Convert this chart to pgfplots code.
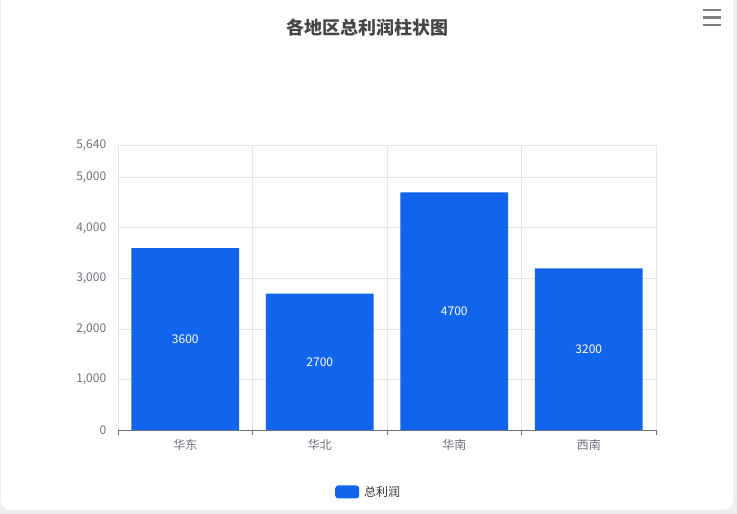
\documentclass[border=0pt]{standalone}
\usepackage{pgfplots}
\pgfplotsset{compat=1.18}
\usepackage{fontspec}
\setmainfont{Noto Sans CJK SC}
\definecolor{barblue}{RGB}{17,101,236}
\definecolor{gridc}{RGB}{224,230,241}
\definecolor{axisc}{RGB}{110,112,121}
\definecolor{titlec}{RGB}{70,70,70}
\definecolor{legc}{RGB}{51,51,51}
\definecolor{bgc}{RGB}{238,238,238}
\definecolor{iconc}{RGB}{128,128,128}
\begin{document}
\begin{tikzpicture}
\useasboundingbox (0,0) rectangle (737bp,514bp);
\fill[bgc] (0,0) rectangle (737bp,514bp);
\fill[white, rounded corners=10bp] (1bp,4bp) rectangle (733bp,530bp);
\node[font=\fontsize{18bp}{21bp}\selectfont\bfseries, text=titlec] at (367bp,486bp) {各地区总利润柱状图};
\foreach \yy in {489,496.5,504}{\draw[line width=2.4bp, color=iconc] (703bp,\yy bp) -- (721bp,\yy bp);}
\begin{axis}[
  at={(118bp,84bp)}, anchor=south west,
  scale only axis, width=538bp, height=285bp,
  xmin=-0.5, xmax=3.5, ymin=0, ymax=5640,
  axis x line*=bottom, axis y line*=left,
  x axis line style={color=axisc, line width=0.8bp, -},
  y axis line style={draw=none},
  xtick={0,1,2,3}, xticklabels={华东,华北,华南,西南},
  major x tick style={draw=none},
  minor xtick={-0.5,0.5,1.5,2.5,3.5},
  minor x tick style={color=axisc, line width=0.8bp},
  minor tick length=5bp, tick align=outside,
  xminorgrids, minor x grid style={color=gridc, line width=0.8bp},
  ytick={0,1000,2000,3000,4000,5000,5640},
  major y tick style={draw=none},
  ymajorgrids, major y grid style={color=gridc, line width=0.8bp},
  /pgf/number format/.cd, 1000 sep={}, assume math mode=true, /pgfplots/.cd,
  tick label style={font=\fontsize{12bp}{14bp}\selectfont, text=axisc},
  yticklabel style={anchor=east, xshift=-4bp, /pgf/number format/1000 sep={,}},
  xticklabel style={yshift=-2bp},
  ybar, bar width=0.8,
  legend style={at={(axis description cs:0.466,-0.2175)}, anchor=center, draw=none, fill=none,
    font=\fontsize{12bp}{14bp}\selectfont, text=legc},
  legend image code/.code={\fill[barblue, rounded corners=3bp] (0bp,-6.5bp) rectangle (24bp,6.5bp); \path (27bp,0bp);},
  nodes near coords,
  visualization depends on={y \as \rawy},
  every node near coord/.append style={anchor=center, text=white, font=\fontsize{12bp}{14bp}\selectfont,
    yshift={-\rawy*0.0252660bp}},
]
\addplot[fill=barblue, draw=none] coordinates {(0,3600) (1,2700) (2,4700) (3,3200)};
\addlegendentry{总利润}
\end{axis}
\end{tikzpicture}
\end{document}
